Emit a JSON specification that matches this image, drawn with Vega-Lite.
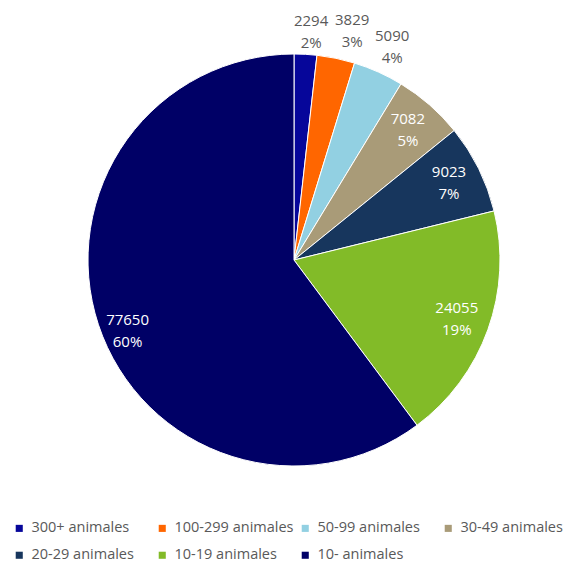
{
  "$schema": "https://vega.github.io/schema/vega-lite/v6.json",
  "width": 548,
  "height": 520,
  "padding": {"left": 12, "top": 0, "right": 0, "bottom": 0},
  "background": "white",
  "config": {"view": {"stroke": null}, "font": "Open Sans"},
  "data": {
    "values": [
      {"categoria": "300+ animales", "valor": 2294, "orden": 1, "pos": "out"},
      {"categoria": "100-299 animales", "valor": 3829, "orden": 2, "pos": "out"},
      {"categoria": "50-99 animales", "valor": 5090, "orden": 3, "pos": "out"},
      {"categoria": "30-49 animales", "valor": 7082, "orden": 4, "pos": "in"},
      {"categoria": "20-29 animales", "valor": 9023, "orden": 5, "pos": "in"},
      {"categoria": "10-19 animales", "valor": 24055, "orden": 6, "pos": "in"},
      {"categoria": "10- animales", "valor": 77650, "orden": 7, "pos": "in"}
    ]
  },
  "transform": [
    {"joinaggregate": [{"op": "sum", "field": "valor", "as": "total"}]},
    {"stack": "valor", "groupby": [], "sort": [{"field": "orden", "order": "ascending"}], "as": ["v0", "v1"]},
    {"calculate": "(datum.v0 + datum.v1) / 2", "as": "medio"},
    {"calculate": "datum.valor + '\\n' + format(datum.valor / datum.total, '.0%')", "as": "etiqueta"}
  ],
  "layer": [
    {
      "mark": {"type": "arc", "outerRadius": 206, "stroke": "white", "strokeWidth": 1},
      "encoding": {
        "theta": {"field": "v1", "type": "quantitative", "scale": {"zero": true, "nice": false}},
        "theta2": {"field": "v0"},
        "color": {
          "field": "categoria",
          "type": "nominal",
          "sort": ["300+ animales", "100-299 animales", "50-99 animales", "30-49 animales", "20-29 animales", "10-19 animales", "10- animales"],
          "scale": {
            "domain": ["300+ animales", "100-299 animales", "50-99 animales", "30-49 animales", "20-29 animales", "10-19 animales", "10- animales"],
            "range": ["#06069A", "#FF6600", "#92D0E2", "#A99B78", "#17365D", "#82BB28", "#000066"]
          },
          "legend": {
            "title": null,
            "orient": "none",
            "direction": "horizontal",
            "legendX": -8,
            "legendY": 521,
            "columns": 4,
            "gridAlign": "all",
            "columnPadding": 4,
            "rowPadding": 12,
            "symbolType": "square",
            "symbolSize": 50,
            "symbolStrokeWidth": 0,
            "labelFontSize": 14.5,
            "labelColor": "#595959",
            "labelFont": "Open Sans",
            "symbolOffset": 0,
            "labelOffset": 5
          }
        }
      }
    },
    {
      "transform": [{"filter": "datum.orden == 1"}],
      "mark": {"type": "text", "radius": 229, "thetaOffset": 0.019, "dy": -11, "lineBreak": "\n", "fontSize": 15, "color": "#595959", "lineHeight": 22, "font": "Open Sans"},
      "encoding": {
        "theta": {"field": "medio", "type": "quantitative"},
        "text": {"field": "etiqueta"}
      }
    },
    {
      "transform": [{"filter": "datum.orden == 2"}],
      "mark": {"type": "text", "radius": 236, "thetaOffset": 0.044, "dy": -11, "lineBreak": "\n", "fontSize": 15, "color": "#595959", "lineHeight": 22, "font": "Open Sans"},
      "encoding": {
        "theta": {"field": "medio", "type": "quantitative"},
        "text": {"field": "etiqueta"}
      }
    },
    {
      "transform": [{"filter": "datum.orden == 3"}],
      "mark": {"type": "text", "radius": 235, "thetaOffset": 0.009, "dy": -11, "lineBreak": "\n", "fontSize": 15, "color": "#595959", "lineHeight": 22, "font": "Open Sans"},
      "encoding": {
        "theta": {"field": "medio", "type": "quantitative"},
        "text": {"field": "etiqueta"}
      }
    },
    {
      "transform": [{"filter": "datum.pos == 'in' && datum.orden != 7"}],
      "mark": {"type": "text", "radius": 173, "dy": -11, "lineBreak": "\n", "fontSize": 15, "color": "white", "lineHeight": 22, "font": "Open Sans"},
      "encoding": {
        "theta": {"field": "medio", "type": "quantitative"},
        "text": {"field": "etiqueta"}
      }
    },
    {
      "transform": [{"filter": "datum.orden == 7"}],
      "mark": {"type": "text", "radius": 181, "thetaOffset": -0.084, "dy": -11, "lineBreak": "\n", "fontSize": 15, "color": "white", "lineHeight": 22, "font": "Open Sans"},
      "encoding": {
        "theta": {"field": "medio", "type": "quantitative"},
        "text": {"field": "etiqueta"}
      }
    }
  ]
}
